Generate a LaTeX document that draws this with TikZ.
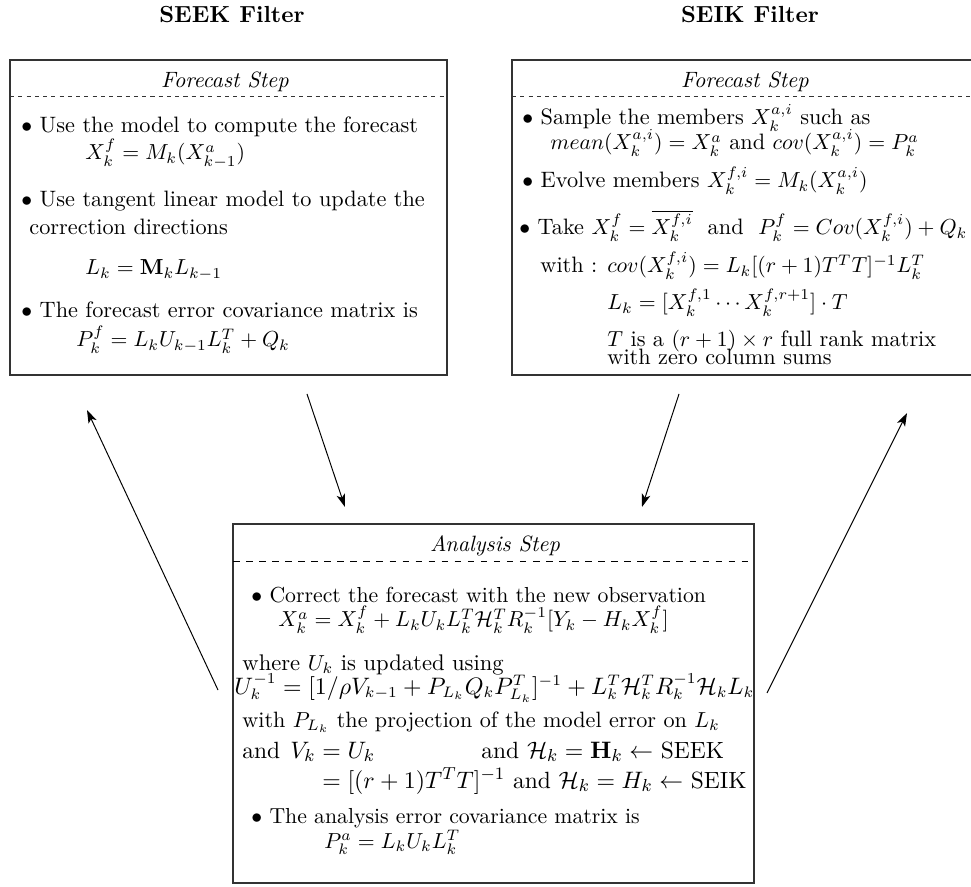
\documentclass[tikz,border=0pt]{standalone}
\usetikzlibrary{arrows.meta,fit}
\begin{document}
\begin{tikzpicture}[x=0.46pt,y=-0.46pt,
  txt/.style={anchor=base west, inner sep=0pt, font=\fontsize{10}{12}\selectfont},
  utxt/.style={anchor=base west, inner sep=0pt, font=\fontsize{10.25}{12}\selectfont},
  wtxt/.style={anchor=base west, inner sep=0pt, font=\fontsize{10.8}{12}\selectfont},
  ttl/.style={anchor=base, inner sep=0pt, font=\fontsize{10.2}{12}\selectfont\itshape},
  hdr/.style={anchor=base, inner sep=0pt, font=\fontsize{10.7}{13}\selectfont\bfseries},
  stepbox/.style={draw=black!80, line width=0.55pt, inner sep=0pt},
  divfine/.style={draw=black!80, line width=0.45pt, dash pattern=on 1.9pt off 1.9pt},
  divwide/.style={draw=black, line width=0.45pt, dash pattern=on 3pt off 3pt},
  flow/.style={-{Stealth[length=6pt,width=4pt,inset=1.5pt]}, line width=0.45pt}]
\useasboundingbox (0,0) rectangle (971,887);
\clip (0,0) rectangle (971,887);

% headers
\node[hdr] (seekhdr) at (232,23) {SEEK Filter};
\node[hdr] (seikhdr) at (750,23) {SEIK Filter};

% boxes
\node[stepbox, fit={(10,60) (447,375)}] (seekbox) {};
\node[stepbox, fit={(512,60) (986,375)}] (seikbox) {};
\node[stepbox, fit={(233,524) (754,883)}] (anbox) {};

\draw[divfine] (10,96) -- (447,96);
\draw[divfine] (512,96) -- (986,96);
\draw[divwide] (233,561) -- (754,561);

% SEEK forecast
\node[ttl] (seekttl) at (225,88) {Forecast Step};
\node[utxt] (seek1) at (21,133) {$\bullet$ Use the model to compute the forecast};
\node[utxt] (seek2) at (85,160) {$X_k^f = M_k(X_{k-1}^a)$};
\node[utxt] (seek3) at (21,207) {$\bullet$ Use tangent linear model to update the};
\node[utxt] (seek4) at (29,235) {correction directions};
\node[utxt] (seek5) at (85,275) {$L_k = \mathbf{M}_k L_{k-1}$};
\node[utxt] (seek6) at (21,318) {$\bullet$ The forecast error covariance matrix is};
\node[utxt] (seek7) at (76,347) {$P_k^f = L_k U_{k-1} L_k^T + Q_k$};

% SEIK forecast
\node[ttl] (seikttl) at (745,88) {Forecast Step};
\node[utxt] (seik1) at (522,125) {$\bullet$ Sample the members $X_k^{a,i}$ such as};
\node[utxt] (seik2) at (550,150) {$mean(X_k^{a,i}) = X_k^a$ and $cov(X_k^{a,i}) = P_k^a$};
\node[utxt] (seik3) at (522,188) {$\bullet$ Evolve members $X_k^{f,i} = M_k(X_k^{a,i})$};
\node[utxt] (seik4) at (519,235) {$\bullet$ Take $X_k^f = \overline{X_k^{f,i}}$~~and~~$P_k^f = Cov(X_k^{f,i}) + Q_k$};
\node[utxt] (seik5) at (540,273) {with : $cov(X_k^{f,i}) = L_k[(r+1)T^TT]^{-1}L_k^T$};
\node[utxt] (seik6) at (607,310) {$L_k = [X_k^{f,1}\cdots X_k^{f,r+1}]\cdot T$};
\node[utxt] (seik7) at (607,347) {$T$ is a $(r+1)\times r$ full rank matrix};
\node[utxt] (seik8) at (607,365) {with zero column sums};

% Analysis
\node[ttl] (anttl) at (495,552) {Analysis Step};
\node[txt] (an1) at (251,602) {$\bullet$ Correct the forecast with the new observation};
\node[txt] (an2) at (278,627) {$X_k^a = X_k^f + L_kU_kL_k^T\mathcal{H}_k^TR_k^{-1}[Y_k - H_kX_k^f]$};
\node[txt, font=\fontsize{10.4}{12}\selectfont] (an3) at (242,670) {where $U_k$ is updated using};
\node[txt, font=\fontsize{10.5}{12}\selectfont] (an4) at (234,694) {$U_k^{-1} = [1/\rho V_{k-1} + P_{L_k}Q_kP_{L_k}^T]^{-1} + L_k^T\mathcal{H}_k^TR_k^{-1}\mathcal{H}_kL_k$};
\node[txt, font=\fontsize{10.2}{12}\selectfont] (an5) at (242,727) {with $P_{L_k}$ the projection of the model error on $L_k$};
\node[wtxt] (an6a) at (242,758) {and};
\node[wtxt] (an6b) at (290,758) {$V_k$};
\node[wtxt] (an6c) at (322,758) {$=U_k$};
\node[wtxt] (an6d) at (481,758) {and $\mathcal{H}_k = \mathbf{H}_k \leftarrow$ SEEK};
\node[wtxt] (an7) at (322,788) {$=[(r+1)T^TT]^{-1}$ and $\mathcal{H}_k = H_k \leftarrow$ SEIK};
\node[txt] (an8) at (251,823) {$\bullet$ The analysis error covariance matrix is};
\node[txt, font=\fontsize{10.3}{12}\selectfont] (an9) at (324,848) {$P_k^a = L_kU_kL_k^T$};

% connectors
\coordinate (a1s) at (218,690);
\coordinate (a1e) at (87,410);
\coordinate (a2s) at (307,394);
\coordinate (a2e) at (345,507);
\coordinate (a3s) at (679,394);
\coordinate (a3e) at (642,507);
\coordinate (a4s) at (767,693);
\coordinate (a4e) at (907,413);
\draw[flow] (a1s) -- (a1e);
\draw[flow] (a2s) -- (a2e);
\draw[flow] (a3s) -- (a3e);
\draw[flow] (a4s) -- (a4e);
\end{tikzpicture}
\end{document}
